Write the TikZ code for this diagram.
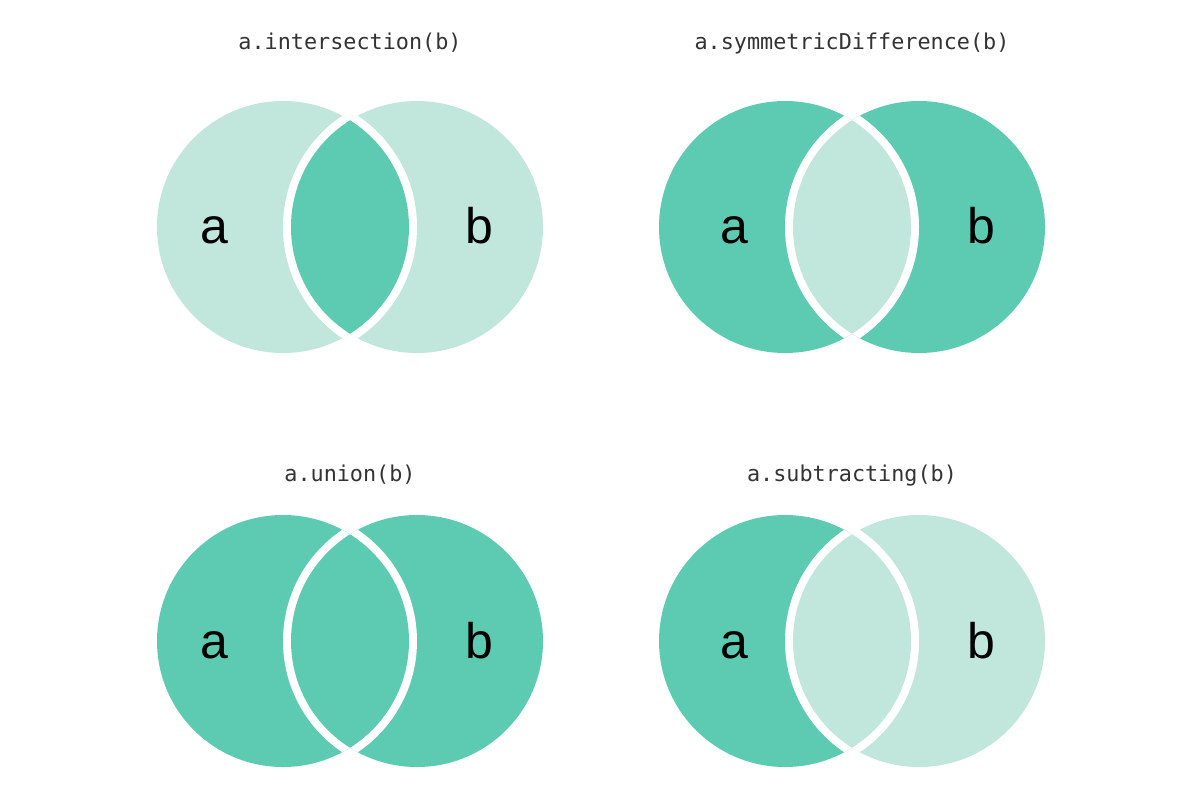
\documentclass[tikz,border=0pt]{standalone}
\usepackage{fontspec}
\setmainfont{Liberation Sans}
\newfontfamily\codefont{DejaVu Sans Mono}
\definecolor{vlight}{HTML}{C1E6DB}
\definecolor{vdark}{HTML}{5DCBB1}
\definecolor{titlegray}{HTML}{333333}
\tikzset{
  title/.style={font=\codefont\fontsize{21.8}{24}\selectfont, text=titlegray, anchor=base, inner sep=0pt},
  setlabel/.style={font=\fontsize{50}{56}\selectfont, text=black, anchor=base, inner sep=0pt},
}
% #1 x-center of pair, #2 y-center, #3 color a, #4 color b, #5 color lens
\newcommand{\vennpair}[5]{%
  \fill[#3] (#1-67,#2) circle[radius=126pt];
  \fill[#4] (#1+67,#2) circle[radius=126pt];
  \begin{scope}
    \clip (#1-67,#2) circle[radius=126pt];
    \draw[white, line width=16pt] (#1+67,#2) circle[radius=126pt];
  \end{scope}
  \begin{scope}
    \clip (#1+67,#2) circle[radius=126pt];
    \draw[white, line width=16pt] (#1-67,#2) circle[radius=126pt];
  \end{scope}
  \begin{scope}
    \clip (#1-67,#2) circle[radius=126pt];
    \fill[#5] (#1+67,#2) circle[radius=126pt];
  \end{scope}
}
\begin{document}
\begin{tikzpicture}[x=1pt,y=-1pt]
\useasboundingbox[fill=white] (0,0) rectangle (1202,808);
\vennpair{350}{227}{vlight}{vlight}{vdark}
\vennpair{852}{227}{vdark}{vdark}{vlight}
\vennpair{350}{641}{vdark}{vdark}{vdark}
\vennpair{852}{641}{vdark}{vlight}{vlight}
\node[title] (t1) at (350,49) {a.intersection(b)};
\node[title] (t2) at (852,49) {a.symmetricDifference(b)};
\node[title] (t3) at (350,481) {a.union(b)};
\node[title] (t4) at (852,481) {a.subtracting(b)};
\node[setlabel] (a1) at (214.5,243) {a};
\node[setlabel] (b1) at (479.5,243) {b};
\node[setlabel] (a2) at (734.5,243) {a};
\node[setlabel] (b2) at (981.5,243) {b};
\node[setlabel] (a3) at (214.5,658) {a};
\node[setlabel] (b3) at (479.5,658) {b};
\node[setlabel] (a4) at (734.5,658) {a};
\node[setlabel] (b4) at (981.5,658) {b};
\end{tikzpicture}
\end{document}
